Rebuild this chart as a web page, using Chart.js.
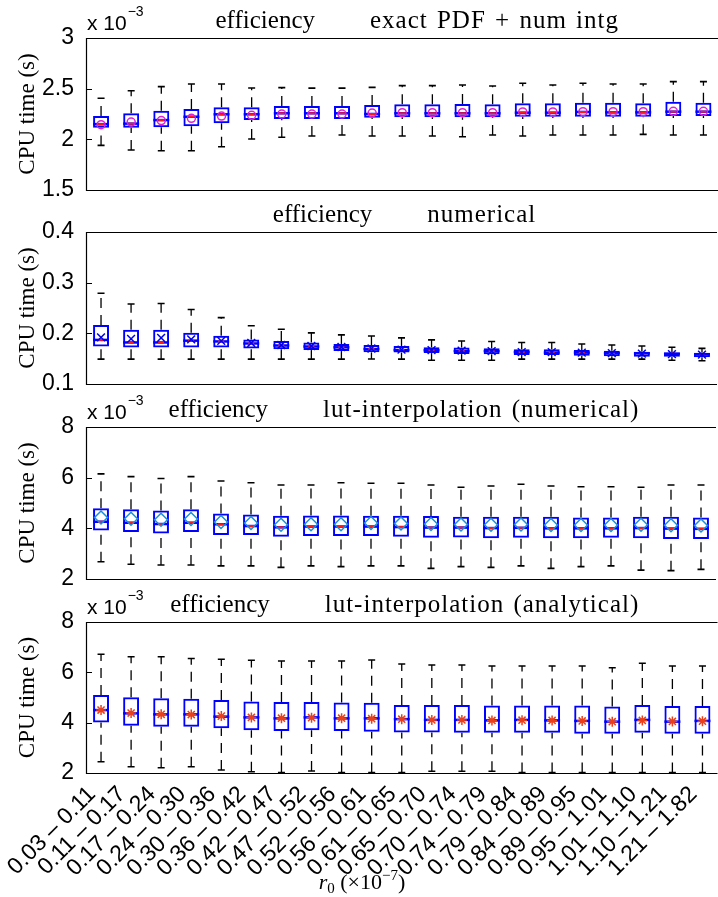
<!DOCTYPE html>
<html>
<head>
<meta charset="utf-8">
<script src="https://cdn.jsdelivr.net/npm/chart.js@4.4.1/dist/chart.umd.min.js"></script>
<style>
html, body { margin: 0; padding: 0; background: #fff; overflow: hidden; width: 718px; height: 897px; }
#wrap { position: absolute; left: 0; top: 0; width: 718px; height: 897px; overflow: hidden; }
.panel { position: absolute; left: 0; width: 724px; }
</style>
</head>
<body>
<div id="wrap">
<div class="panel" style="top:0px;height:200px"><canvas id="p1"></canvas></div>
<div class="panel" style="top:190px;height:210px"><canvas id="p2"></canvas></div>
<div class="panel" style="top:385px;height:215px"><canvas id="p3"></canvas></div>
<div class="panel" style="top:585px;height:312px"><canvas id="p4"></canvas></div>
</div>
<script>
// r0 bins (x 1e-7)
const categories = [
  '0.03 – 0.11', '0.11 – 0.17', '0.17 – 0.24', '0.24 – 0.30', '0.30 – 0.36', '0.36 – 0.42',
  '0.42 – 0.47', '0.47 – 0.52', '0.52 – 0.56', '0.56 – 0.61', '0.61 – 0.65', '0.65 – 0.70',
  '0.70 – 0.74', '0.74 – 0.79', '0.79 – 0.84', '0.84 – 0.89', '0.89 – 0.95', '0.95 – 1.01',
  '1.01 – 1.10', '1.10 – 1.21', '1.21 – 1.82'
];

// panel 1: exact PDF + num intg (x 1e-3 s)
const p1Low  = [1.94, 1.895, 1.888, 1.888, 1.927, 2.003, 2.02, 2.033, 2.043, 2.033, 2.033, 2.033, 2.026, 2.043, 2.033, 2.043, 2.043, 2.043, 2.049, 2.043, 2.043];
const p1Q1   = [2.115, 2.115, 2.12, 2.13, 2.158, 2.19, 2.20, 2.20, 2.20, 2.213, 2.217, 2.217, 2.217, 2.217, 2.223, 2.223, 2.223, 2.223, 2.223, 2.23, 2.23];
const p1Med  = [2.15, 2.155, 2.19, 2.223, 2.247, 2.247, 2.257, 2.257, 2.257, 2.25, 2.257, 2.257, 2.257, 2.257, 2.263, 2.263, 2.27, 2.266, 2.266, 2.273, 2.273];
const p1Q3   = [2.23, 2.257, 2.283, 2.30, 2.316, 2.316, 2.329, 2.329, 2.329, 2.339, 2.345, 2.345, 2.349, 2.345, 2.355, 2.355, 2.362, 2.362, 2.355, 2.372, 2.362];
const p1High = [2.405, 2.48, 2.52, 2.546, 2.546, 2.506, 2.51, 2.505, 2.505, 2.513, 2.53, 2.53, 2.536, 2.526, 2.553, 2.536, 2.553, 2.546, 2.546, 2.569, 2.569];
const p1Mean = [2.145, 2.17, 2.185, 2.207, 2.23, 2.237, 2.25, 2.25, 2.25, 2.26, 2.263, 2.263, 2.263, 2.263, 2.27, 2.27, 2.273, 2.273, 2.273, 2.276, 2.276];

// panel 2: numerical (s)
const p2Low  = [0.149, 0.149, 0.149, 0.149, 0.149, 0.149, 0.149, 0.149, 0.149, 0.1494, 0.149, 0.147, 0.147, 0.147, 0.149, 0.149, 0.149, 0.149, 0.149, 0.147, 0.146];
const p2Q1   = [0.174, 0.172, 0.172, 0.172, 0.172, 0.170, 0.1685, 0.167, 0.165, 0.1625, 0.162, 0.161, 0.159, 0.1586, 0.1573, 0.157, 0.156, 0.155, 0.154, 0.154, 0.1526];
const p2Med  = [0.187, 0.182, 0.182, 0.1855, 0.184, 0.180, 0.176, 0.174, 0.1724, 0.169, 0.167, 0.1665, 0.165, 0.165, 0.163, 0.162, 0.162, 0.161, 0.1605, 0.160, 0.1586];
const p2Q3   = [0.2165, 0.207, 0.207, 0.201, 0.195, 0.188, 0.185, 0.182, 0.179, 0.177, 0.175, 0.1724, 0.172, 0.1704, 0.1685, 0.1685, 0.167, 0.1658, 0.1638, 0.1618, 0.1618];
const p2High = [0.279, 0.258, 0.259, 0.247, 0.231, 0.215, 0.208, 0.201, 0.197, 0.1947, 0.191, 0.187, 0.185, 0.184, 0.182, 0.182, 0.179, 0.177, 0.175, 0.1724, 0.1704];
const p2Mean = [0.192, 0.189, 0.191, 0.188, 0.185, 0.181, 0.177, 0.175, 0.173, 0.170, 0.168, 0.167, 0.166, 0.165, 0.163, 0.163, 0.162, 0.161, 0.160, 0.159, 0.158];

// panel 3: lut-interpolation (numerical) (x 1e-3 s)
const p3Low  = [2.68, 2.58, 2.55, 2.55, 2.52, 2.52, 2.46, 2.52, 2.49, 2.52, 2.52, 2.42, 2.49, 2.46, 2.52, 2.42, 2.49, 2.52, 2.35, 2.33, 2.38];
const p3Q1   = [3.91, 3.86, 3.80, 3.86, 3.74, 3.74, 3.67, 3.70, 3.70, 3.70, 3.67, 3.63, 3.64, 3.61, 3.63, 3.61, 3.61, 3.63, 3.61, 3.58, 3.58];
const p3Med  = [4.26, 4.22, 4.17, 4.22, 4.16, 4.09, 4.04, 4.07, 4.07, 4.07, 4.05, 4.03, 4.03, 4.01, 4.02, 4.00, 4.00, 4.00, 4.01, 3.99, 3.98];
const p3Q3   = [4.79, 4.75, 4.70, 4.75, 4.59, 4.55, 4.50, 4.51, 4.51, 4.50, 4.50, 4.49, 4.46, 4.46, 4.46, 4.46, 4.43, 4.43, 4.46, 4.46, 4.43];
const p3High = [6.15, 6.04, 5.97, 6.04, 5.87, 5.80, 5.71, 5.71, 5.80, 5.78, 5.78, 5.71, 5.62, 5.67, 5.74, 5.67, 5.64, 5.64, 5.62, 5.71, 5.71];
const p3Mean = [4.43, 4.38, 4.34, 4.37, 4.25, 4.21, 4.14, 4.16, 4.16, 4.21, 4.19, 4.17, 4.15, 4.14, 4.15, 4.13, 4.13, 4.13, 4.14, 4.12, 4.11];

// panel 4: lut-interpolation (analytical) (x 1e-3 s)
const p4Low  = [2.45, 2.25, 2.21, 2.25, 2.12, 2.05, 2.02, 2.08, 2.02, 2.02, 2.02, 2.07, 2.07, 2.07, 2.02, 2.02, 2.02, 2.02, 2.02, 2.02, 2.02];
const p4Q1   = [4.01, 3.88, 3.84, 3.84, 3.78, 3.70, 3.67, 3.70, 3.67, 3.64, 3.61, 3.61, 3.60, 3.60, 3.60, 3.60, 3.56, 3.56, 3.60, 3.56, 3.56];
const p4Med  = [4.50, 4.37, 4.33, 4.33, 4.24, 4.21, 4.17, 4.21, 4.17, 4.17, 4.14, 4.11, 4.11, 4.09, 4.11, 4.09, 4.07, 4.04, 4.11, 4.04, 4.07];
const p4Q3   = [5.10, 5.01, 4.97, 4.95, 4.90, 4.84, 4.82, 4.82, 4.80, 4.79, 4.70, 4.70, 4.70, 4.68, 4.68, 4.68, 4.68, 4.64, 4.70, 4.66, 4.66];
const p4High = [6.72, 6.62, 6.62, 6.55, 6.52, 6.48, 6.45, 6.45, 6.45, 6.49, 6.33, 6.29, 6.29, 6.25, 6.25, 6.25, 6.25, 6.18, 6.36, 6.25, 6.25];
const p4Mean = [4.50, 4.38, 4.33, 4.32, 4.26, 4.21, 4.18, 4.20, 4.18, 4.16, 4.14, 4.11, 4.11, 4.09, 4.10, 4.09, 4.07, 4.04, 4.09, 4.05, 4.06];

const methodNames = ['exact PDF + num intg', 'numerical', 'lut-interpolation (numerical)', 'lut-interpolation (analytical)'];

const BLUE = '#0000ff';
const BOX_FRAC = 0.53;
const SANS = '"Liberation Sans", Arial, sans-serif';
const SERIF = '"Liberation Serif", "Times New Roman", serif';

Chart.defaults.font.family = SANS;
Chart.defaults.color = '#000';

function boxExtras(panel) {
    return {
        id: 'boxExtras',
        beforeDatasetsDraw(chart) {
            const ctx = chart.ctx;
            const xs = chart.scales.x, ys = chart.scales.y;
            const half = xs.width / categories.length * BOX_FRAC / 2;
            ctx.save();
            for (let i = 0; i < categories.length; i++) {
                const px = xs.getPixelForValue(i);
                const yLow = ys.getPixelForValue(panel.low[i]);
                const yQ1 = ys.getPixelForValue(panel.q1[i]);
                const yQ3 = ys.getPixelForValue(panel.q3[i]);
                const yHigh = ys.getPixelForValue(panel.high[i]);
                const yMed = ys.getPixelForValue(panel.med[i]);
                // whiskers (dashed)
                ctx.strokeStyle = '#000';
                ctx.lineWidth = 1.3;
                ctx.setLineDash([10, 7]);
                ctx.beginPath(); ctx.moveTo(px, yLow); ctx.lineTo(px, yQ1); ctx.stroke();
                ctx.beginPath(); ctx.moveTo(px, yQ3); ctx.lineTo(px, yHigh); ctx.stroke();
                ctx.setLineDash([]);
                // caps
                ctx.lineWidth = 1.6;
                ctx.beginPath();
                ctx.moveTo(px - 3.5, yLow); ctx.lineTo(px + 3.5, yLow);
                ctx.moveTo(px - 3.5, yHigh); ctx.lineTo(px + 3.5, yHigh);
                ctx.stroke();
                // median
                ctx.strokeStyle = BLUE;
                ctx.lineWidth = 2.5;
                ctx.beginPath(); ctx.moveTo(px - half, yMed); ctx.lineTo(px + half, yMed); ctx.stroke();
                ctx.strokeStyle = '#ff1a1a';
                ctx.lineWidth = 2;
                ctx.beginPath(); ctx.moveTo(px - 3, yMed); ctx.lineTo(px + 3, yMed); ctx.stroke();
            }
            ctx.restore();
        },
        afterDraw(chart) {
            const ctx = chart.ctx;
            const a = chart.chartArea;
            const ys = chart.scales.y;
            const L = Math.round(a.left) + 0.5, T = Math.round(a.top) + 0.5, B = Math.round(a.bottom) + 0.5;
            ctx.save();
            // axes lines (right side falls outside the picture)
            ctx.strokeStyle = '#000';
            ctx.lineWidth = 1.2;
            ctx.beginPath();
            ctx.moveTo(a.right, T); ctx.lineTo(L, T); ctx.lineTo(L, B); ctx.lineTo(a.right, B);
            ctx.stroke();
            // inward y ticks
            ctx.beginPath();
            ys.ticks.forEach(t => {
                const py = Math.round(ys.getPixelForValue(t.value)) + 0.5;
                ctx.moveTo(a.left, py); ctx.lineTo(a.left + 6, py);
            });
            ctx.stroke();
            // title: "efficiency" + method
            ctx.fillStyle = '#000';
            ctx.textBaseline = 'alphabetic';
            ctx.textAlign = 'left';
            ctx.font = '25px ' + SERIF;
            const w1 = ctx.measureText('efficiency').width;
            ctx.letterSpacing = '1px';
            ctx.wordSpacing = '2px';
            const w2 = ctx.measureText(panel.method).width;
            const gap = 55;
            const cx = (a.left + a.right) / 2 + panel.titleShift;
            const tx = cx - (w1 + gap + w2) / 2;
            const ty = a.top - 10;
            ctx.fillText(panel.method, tx + w1 + gap, ty);
            ctx.letterSpacing = '0px';
            ctx.wordSpacing = '0px';
            ctx.fillText('efficiency', tx, ty);
            // exponent label
            if (panel.exponent) {
                ctx.font = '21px ' + SANS;
                ctx.fillText('x 10', a.left + 1, a.top - 8);
                const wx = ctx.measureText('x 10').width;
                ctx.font = '14px ' + SANS;
                ctx.fillText('\u2212' + panel.exponent, a.left + 2 + wx, a.top - 22);
            }
            // x axis title
            if (panel.showX) {
                const base = a.bottom + 116;
                const parts = [
                    ['italic 22px ' + SERIF, 'r', 0],
                    ['15px ' + SERIF, '0', 4],
                    ['22px ' + SERIF, ' (\u00d710', 0],
                    ['15px ' + SERIF, '\u22127', -9],
                    ['22px ' + SERIF, ')', 0]
                ];
                let total = 0;
                parts.forEach(p => { ctx.font = p[0]; total += ctx.measureText(p[1]).width; });
                let px = a.left + (a.right - a.left) * 0.437 - total / 2;
                parts.forEach(p => {
                    ctx.font = p[0];
                    ctx.fillText(p[1], px, base + p[2]);
                    px += ctx.measureText(p[1]).width;
                });
            }
            ctx.restore();
        }
    };
}

function makePanel(id, panel) {
    const canvas = document.getElementById(id);
    return new Chart(canvas.getContext('2d'), {
        type: 'bar',
        data: {
            labels: categories,
            datasets: [
                {
                    type: 'bar',
                    data: panel.q1.map((v, i) => [v, panel.q3[i]]),
                    backgroundColor: 'rgba(0,0,0,0)',
                    borderColor: BLUE,
                    borderWidth: 2,
                    borderSkipped: false,
                    barPercentage: BOX_FRAC,
                    categoryPercentage: 1,
                    order: 2
                },
                {
                    type: 'line',
                    data: panel.mean,
                    showLine: false,
                    borderColor: panel.markerColor,
                    pointStyle: panel.marker,
                    pointRadius: panel.markerSize,
                    pointBorderColor: panel.markerColor,
                    pointBackgroundColor: 'rgba(0,0,0,0)',
                    pointBorderWidth: 1.5,
                    order: 1
                }
            ]
        },
        options: {
            responsive: true,
            maintainAspectRatio: false,
            animation: false,
            events: [],
            layout: { padding: { top: panel.padTop, bottom: panel.padBottom, left: 0, right: 0 } },
            plugins: { legend: { display: false }, tooltip: { enabled: false } },
            scales: {
                x: {
                    type: 'category',
                    offset: true,
                    display: panel.showX,
                    grid: { display: false },
                    border: { display: false },
                    ticks: {
                        autoSkip: false,
                        minRotation: 45,
                        maxRotation: 45,
                        padding: 0,
                        labelOffset: -9,
                        color: '#000',
                        font: { family: SANS, size: 23 }
                    },
                    afterFit: s => {
                        if (panel.showX) s.height = 124;
                        s.paddingLeft = 0; s.paddingRight = 0;
                    }
                },
                y: {
                    min: panel.min,
                    max: panel.max,
                    grid: { display: false },
                    border: { display: false },
                    ticks: {
                        stepSize: panel.step,
                        padding: 4,
                        color: '#000',
                        font: { family: SANS, size: 23 },
                        callback: v => String(parseFloat(Number(v).toFixed(3)))
                    },
                    title: {
                        display: true,
                        text: 'CPU time (s)',
                        color: '#000',
                        font: { family: SERIF, size: 23 },
                        padding: { top: 14, bottom: 0 }
                    },
                    afterFit: s => { s.width = 86; s.paddingTop = 0; s.paddingBottom = 0; }
                }
            }
        },
        plugins: [boxExtras(panel)]
    });
}

makePanel('p1', { low: p1Low, q1: p1Q1, med: p1Med, q3: p1Q3, high: p1High, mean: p1Mean,
    method: methodNames[0], exponent: '3', min: 1.5, max: 3, step: 0.5, titleShift: 15,
    marker: 'circle', markerSize: 4, markerColor: '#e020d8', padTop: 38, padBottom: 10, showX: false });
makePanel('p2', { low: p2Low, q1: p2Q1, med: p2Med, q3: p2Q3, high: p2High, mean: p2Mean,
    method: methodNames[1], exponent: null, min: 0.1, max: 0.4, step: 0.1, titleShift: 3,
    marker: 'crossRot', markerSize: 5.5, markerColor: '#0000ee', padTop: 42, padBottom: 16, showX: false });
makePanel('p3', { low: p3Low, q1: p3Q1, med: p3Med, q3: p3Q3, high: p3High, mean: p3Mean,
    method: methodNames[2], exponent: '3', min: 2, max: 8, step: 2, titleShift: 3,
    marker: 'rectRot', markerSize: 6.5, markerColor: '#1a8fd6', padTop: 42, padBottom: 21, showX: false });
makePanel('p4', { low: p4Low, q1: p4Q1, med: p4Med, q3: p4Q3, high: p4High, mean: p4Mean,
    method: methodNames[3], exponent: '3', min: 2, max: 8, step: 2, titleShift: 3,
    marker: 'star', markerSize: 5, markerColor: '#e8401c', padTop: 37, padBottom: 0, showX: true });
</script>
</body>
</html>
